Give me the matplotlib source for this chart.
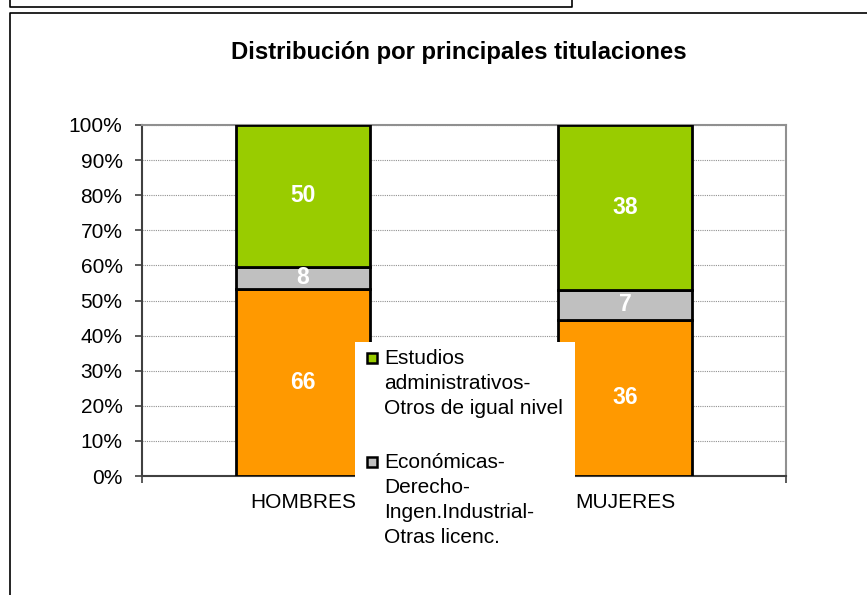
import numpy as np
import matplotlib
matplotlib.use("Agg")
import matplotlib.pyplot as plt
from matplotlib.lines import Line2D
from matplotlib.patches import Rectangle

plt.rcParams['font.family'] = ['Liberation Sans', 'DejaVu Sans']

# data
categories = ['HOMBRES', 'MUJERES']
series_names = ['Otras titulaciones',
                'Económicas-\nDerecho-\nIngen.Industrial-\nOtras licenc.',
                'Estudios\nadministrativos-\nOtros de igual nivel']
series_values = [[66, 36], [8, 7], [50, 38]]
series_colors = ['#FF9900', '#C0C0C0', '#99CC00']
y_ticks = [0, 10, 20, 30, 40, 50, 60, 70, 80, 90, 100]

W, H = 867, 595
fig = plt.figure(figsize=(W / 100, H / 100), dpi=100)


def fx(px):
    return px / W


def fy(py):
    return 1 - py / H


# outer frames
for xs, ys in [([9.5, 9.5, 572, 572], [0, 6.5, 6.5, 0]),
               ([867, 9.5, 9.5], [13, 13, 595])]:
    fig.add_artist(Line2D([fx(x) for x in xs], [fy(y) for y in ys],
                          color='black', lw=1.2, transform=fig.transFigure))

ax = fig.add_axes([fx(142), fy(476), fx(786) - fx(142), fy(125) - fy(476)])

vals = np.array(series_values, dtype=float)
pct = vals / vals.sum(axis=0) * 100
x = np.arange(len(categories))
bottom = np.zeros(len(categories))
for i in range(len(series_names)):
    ax.bar(x, pct[i], 0.416, bottom=bottom, color=series_colors[i],
           edgecolor='black', linewidth=2, zorder=3)
    for j in range(len(categories)):
        ax.text(x[j], bottom[j] + pct[i][j] / 2, '%d' % vals[i][j],
                ha='center', va='center', color='white', fontsize=16.5,
                fontweight='bold', zorder=4)
    bottom += pct[i]

ax.set_xlim(-0.5, 1.5)
ax.set_ylim(0, 100)
ax.set_yticks(y_ticks)
ax.set_yticklabels(['%d%%' % t for t in y_ticks], fontsize=15)
ax.set_xticks(x)
ax.set_xticklabels(categories, fontsize=15)
ax.set_xticks([-0.5, 0.5, 1.5], minor=True)
ax.tick_params(axis='x', which='major', length=0, pad=12)
ax.tick_params(axis='x', which='minor', length=5, width=1.2, color='#404040')
ax.tick_params(axis='y', length=5, width=1.2, color='#404040', pad=9)
ax.grid(axis='y', color='#909090', linestyle=(0, (1, 1)), linewidth=0.8, zorder=0)
for side in ['top', 'right']:
    ax.spines[side].set_color('#909090')
    ax.spines[side].set_linewidth(1.5)
for side in ['left', 'bottom']:
    ax.spines[side].set_color('#404040')
    ax.spines[side].set_linewidth(1.5)

fig.text(fx(459), fy(52), 'Distribución por principales titulaciones',
         ha='center', va='center', fontsize=17.2, fontweight='bold')

# legend (clipped by the bottom of the figure, as in the original)
fig.add_artist(Rectangle((fx(355), 0), fx(575) - fx(355), fy(342),
                         transform=fig.transFigure, facecolor='white',
                         edgecolor='none', zorder=5))
legend_tops = [349, 453]
for k, idx in enumerate([2, 1]):
    top = legend_tops[k]
    fig.add_artist(Rectangle((fx(367), fy(top + 14)), fx(10), 10 / H,
                             transform=fig.transFigure,
                             facecolor=series_colors[idx],
                             edgecolor='black', lw=1.8, zorder=6))
    fig.text(fx(384), fy(top), series_names[idx], ha='left', va='top',
             fontsize=15, linespacing=1.4, zorder=7)

fig.savefig('out.png', dpi=100)
